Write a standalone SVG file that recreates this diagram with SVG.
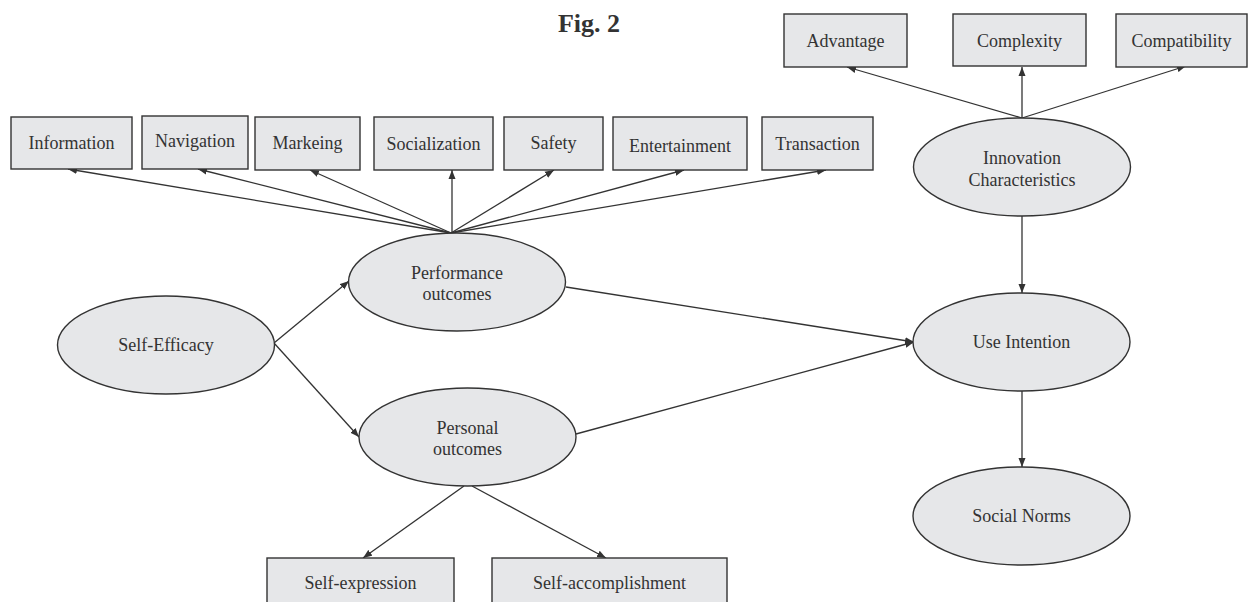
<svg xmlns="http://www.w3.org/2000/svg" width="1259" height="602" viewBox="0 0 1259 602">
<style>
.box{fill:#e6e7e9;stroke:#333;stroke-width:1.4}
.ell{fill:#e6e7e9;stroke:#333;stroke-width:1.4}
.lbl{font-family:"Liberation Serif","Times New Roman",serif;font-size:18px;fill:#333;text-anchor:middle}
.title{font-family:"Liberation Serif","Times New Roman",serif;font-size:26px;font-weight:bold;fill:#333;text-anchor:middle}
.con line{stroke:#333;stroke-width:1.3;marker-end:url(#arr)}
</style>
<defs>
<marker id="arr" markerUnits="userSpaceOnUse" markerWidth="10" markerHeight="8" refX="9" refY="4" orient="auto">
<path d="M0,0.5 L9,4 L0,7.5 z" fill="#333"/>
</marker>
</defs>
<rect width="1259" height="602" fill="#fff"/>
<text class="title" x="589" y="32">Fig. 2</text>

<g id="connectors" class="con">
<line x1="451" y1="233" x2="68" y2="169"/>
<line x1="451" y1="233" x2="198" y2="169"/>
<line x1="451" y1="233" x2="310" y2="170"/>
<line x1="452" y1="233" x2="452" y2="170"/>
<line x1="451" y1="233" x2="554" y2="170"/>
<line x1="451" y1="233" x2="684" y2="170"/>
<line x1="451" y1="233" x2="826" y2="170"/>
<line x1="1022" y1="118" x2="847" y2="67"/>
<line x1="1022" y1="118" x2="1022" y2="67"/>
<line x1="1022" y1="118" x2="1186" y2="66"/>
<line x1="274" y1="343" x2="349" y2="281"/>
<line x1="274" y1="343" x2="359" y2="437"/>
<line x1="566" y1="287" x2="914" y2="342"/>
<line x1="576" y1="434" x2="914" y2="342"/>
<line x1="1022" y1="216" x2="1022" y2="293"/>
<line x1="1022" y1="391" x2="1022" y2="467"/>
<line x1="464" y1="486" x2="363" y2="558"/>
<line x1="472" y1="486" x2="606" y2="558"/>
</g>

<g id="n-information"><rect class="box" x="11" y="117" width="121" height="52"/><text class="lbl" x="71.5" y="149">Information</text></g>
<g id="n-navigation"><rect class="box" x="142" y="116" width="106" height="53"/><text class="lbl" x="195" y="147">Navigation</text></g>
<g id="n-markeing"><rect class="box" x="255" y="117" width="105" height="53"/><text class="lbl" x="307.5" y="149">Markeing</text></g>
<g id="n-socialization"><rect class="box" x="374" y="117" width="119" height="53"/><text class="lbl" x="433.5" y="150">Socialization</text></g>
<g id="n-safety"><rect class="box" x="504" y="117" width="99" height="53"/><text class="lbl" x="553.5" y="149">Safety</text></g>
<g id="n-entertainment"><rect class="box" x="613" y="117" width="134" height="53"/><text class="lbl" x="680" y="152">Entertainment</text></g>
<g id="n-transaction"><rect class="box" x="762" y="117" width="111" height="53"/><text class="lbl" x="817.5" y="150">Transaction</text></g>

<g id="n-advantage"><rect class="box" x="784" y="14" width="123" height="53"/><text class="lbl" x="845.5" y="47">Advantage</text></g>
<g id="n-complexity"><rect class="box" x="953" y="14" width="133" height="52"/><text class="lbl" x="1019.5" y="47">Complexity</text></g>
<g id="n-compatibility"><rect class="box" x="1116" y="14" width="131" height="53"/><text class="lbl" x="1181.5" y="47">Compatibility</text></g>

<g id="n-innovation"><ellipse class="ell" cx="1022" cy="167" rx="108.5" ry="49"/><text class="lbl" x="1022" y="164">Innovation</text><text class="lbl" x="1022" y="186">Characteristics</text></g>
<g id="n-performance"><ellipse class="ell" cx="457" cy="282" rx="108.5" ry="49"/><text class="lbl" x="457" y="279">Performance</text><text class="lbl" x="457" y="300">outcomes</text></g>
<g id="n-selfefficacy"><ellipse class="ell" cx="166" cy="345" rx="108.5" ry="49"/><text class="lbl" x="166" y="351">Self-Efficacy</text></g>
<g id="n-personal"><ellipse class="ell" cx="467.5" cy="437" rx="108.5" ry="49"/><text class="lbl" x="467.5" y="434">Personal</text><text class="lbl" x="467.5" y="455">outcomes</text></g>
<g id="n-useintention"><ellipse class="ell" cx="1021.5" cy="342" rx="108.5" ry="49"/><text class="lbl" x="1021.5" y="348">Use Intention</text></g>
<g id="n-socialnorms"><ellipse class="ell" cx="1021.5" cy="516" rx="108.5" ry="49"/><text class="lbl" x="1021.5" y="522">Social Norms</text></g>

<g id="n-selfexpression"><rect class="box" x="267" y="558" width="187" height="60"/><text class="lbl" x="360.5" y="589">Self-expression</text></g>
<g id="n-selfaccomplishment"><rect class="box" x="492" y="558" width="235" height="60"/><text class="lbl" x="609.5" y="589">Self-accomplishment</text></g>
</svg>
